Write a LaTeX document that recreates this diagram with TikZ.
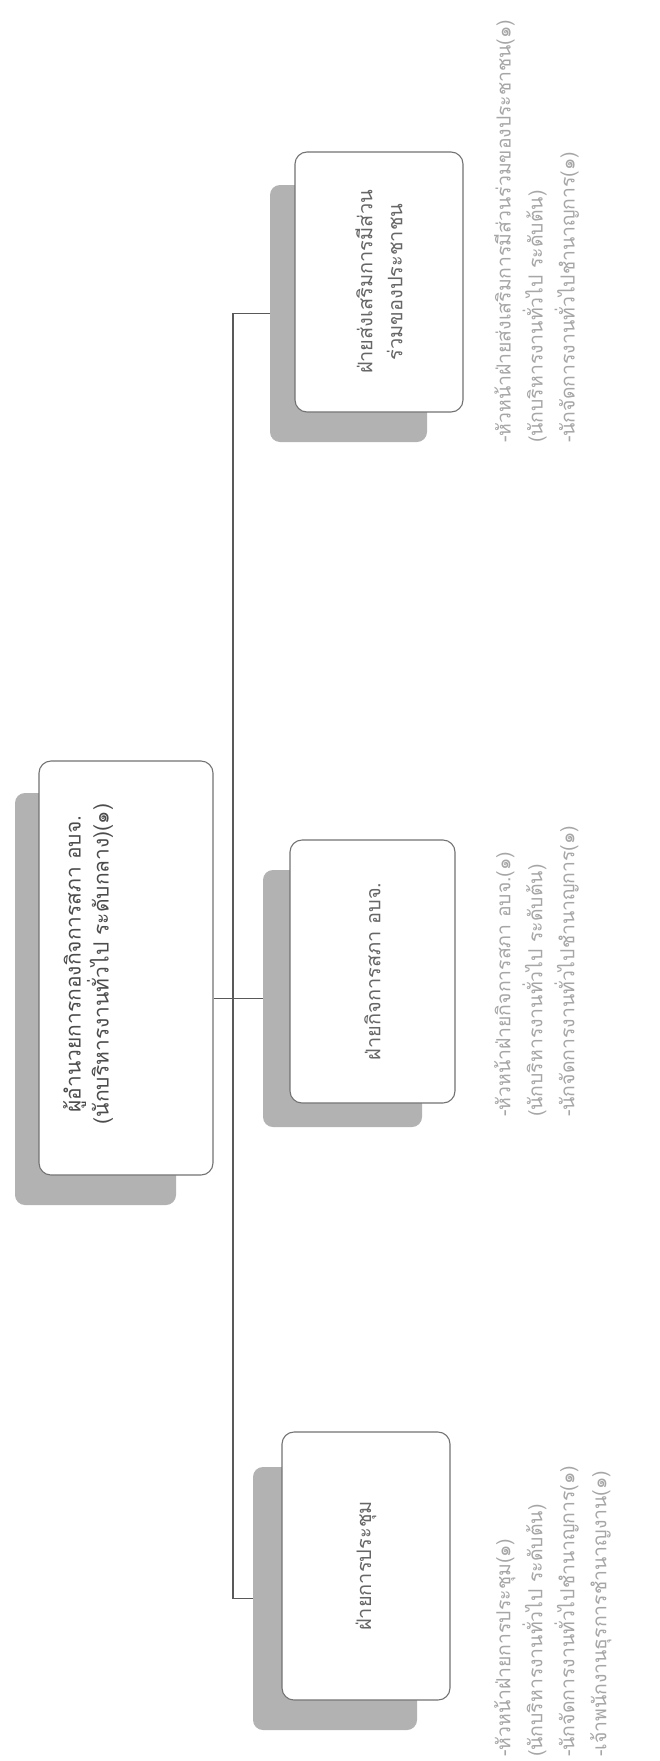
\documentclass[tikz,border=0pt]{standalone}
\usepackage{fontspec}
\newfontfamily\thaifont[Script=Thai]{Loma}
\begin{document}
\begin{tikzpicture}[x=1pt,y=1pt,
  shadowbox/.style={draw=none, fill=black!30, rounded corners=10pt, inner sep=0pt},
  cardbox/.style={draw=black!55, line width=1.1pt, fill=white, rounded corners=12pt, inner sep=0pt},
  boxtext/.style={rotate=90, font=\thaifont\fontsize{20}{30}\selectfont, text=black!60, align=center, inner sep=0pt},
  desc/.style={rotate=90, anchor=north west, font=\thaifont\fontsize{19.4}{32}\selectfont, text=black!35, align=left, inner sep=0pt},
  link/.style={draw=black!65, line width=1.2pt}]

\fill[white] (0,0) rectangle (659,-1761);
\useasboundingbox (0,0) rectangle (659,-1761);

% shadows
\node[shadowbox, minimum width=161pt, minimum height=412pt] (dirsh) at (95.5,-999) {};
\node[shadowbox, minimum width=157pt, minimum height=257pt] (topsh) at (348.5,-313.5) {};
\node[shadowbox, minimum width=159pt, minimum height=257pt] (midsh) at (342.5,-998.5) {};
\node[shadowbox, minimum width=164pt, minimum height=263pt] (botsh) at (335,-1598.5) {};

% connectors
\coordinate (tx) at (233,0);
\draw[link] (topsh.west) -- (topsh.west -| tx) -- (botsh.west -| tx) -- (botsh.west);

% cards
\node[cardbox, minimum width=174pt, minimum height=414pt] (dir) at (126,-968) {};
\node[cardbox, minimum width=168pt, minimum height=260pt] (top) at (379,-282) {};
\node[cardbox, minimum width=165pt, minimum height=263pt] (mid) at (372.5,-971.5) {};
\node[cardbox, minimum width=168pt, minimum height=268pt] (bot) at (366,-1566) {};

\draw[link] (midsh.west -| dir.east) -- (midsh.west);

% card texts
\node[boxtext, font=\thaifont\fontsize{21}{26}\selectfont, text=black!70] (dirtxt) at (88,-964) {ผู้อำนวยการกองกิจการสภา อบจ.\\(นักบริหารงานทั่วไป ระดับกลาง)(๑)};
\node[boxtext] (toptxt) at (top.center) {ฝ่ายส่งเสริมการมีส่วน\\ร่วมของประชาชน};
\node[boxtext] (midtxt) at (mid.center) {ฝ่ายกิจการสภา อบจ.};
\node[boxtext] (bottxt) at (bot.center) {ฝ่ายการประชุม};

% descriptions
\node[desc] (topdesc) at (494,-443) {-หัวหน้าฝ่ายส่งเสริมการมีส่วนร่วมของประชาชน(๑)\\(นักบริหารงานทั่วไป ระดับต้น)\\-นักจัดการงานทั่วไปชำนาญการ(๑)};
\node[desc] (middesc) at (494,-1117) {-หัวหน้าฝ่ายกิจการสภา อบจ.(๑)\\(นักบริหารงานทั่วไป ระดับต้น)\\-นักจัดการงานทั่วไปชำนาญการ(๑)};
\node[desc] (botdesc) at (494,-1757) {-หัวหน้าฝ่ายการประชุม(๑)\\(นักบริหารงานทั่วไป ระดับต้น)\\-นักจัดการงานทั่วไปชำนาญการ(๑)\\-เจ้าพนักงานธุรการชำนาญงาน(๑)};
\end{tikzpicture}
\end{document}
